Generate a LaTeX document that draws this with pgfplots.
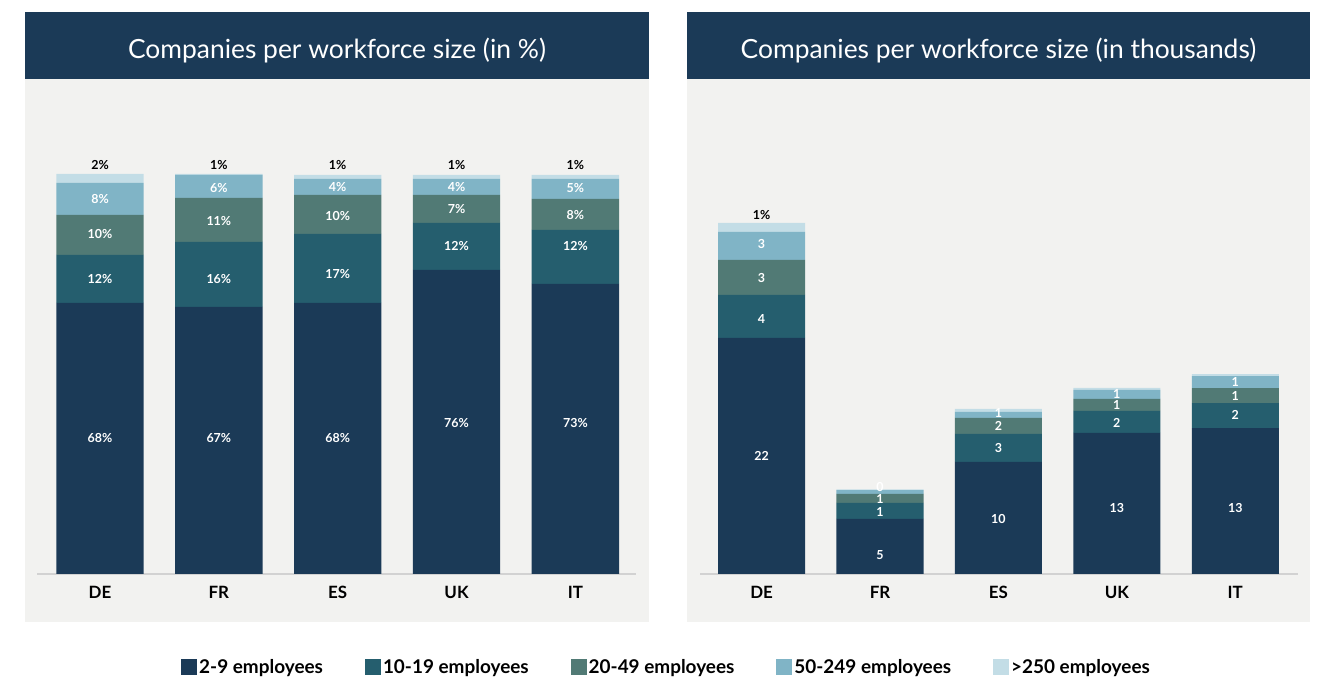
\documentclass[border=0pt]{standalone}
\usepackage{pgfplots}
\pgfplotsset{compat=1.18}
\usepackage{pgfplotstable}
\usepackage{fontspec}
\setmainfont{Lato}
\definecolor{cA}{HTML}{1B3A57}
\definecolor{cB}{HTML}{255E6E}
\definecolor{cC}{HTML}{517A75}
\definecolor{cD}{HTML}{80B4C6}
\definecolor{cE}{HTML}{C3DDE6}
\definecolor{band}{HTML}{1B3A57}
\definecolor{panel}{HTML}{F2F2F0}
\definecolor{axisgray}{HTML}{D2D2D2}

\pgfplotstableread{
x a b c d e
0 67.75 12 10 8 2.25
1 66.75 16.25 11 5.75 0.25
2 67.75 17.25 9.75 4 1
3 76 11.75 7 4 1
4 72.5 13.5 7.75 5 1
}\leftdata

\pgfplotstableread{
x a b c d e
0 22.06 4.02 3.27 2.62 0.84
1 5.14 1.50 0.84 0.37 0.05
2 10.47 2.62 1.50 0.56 0.28
3 13.18 2.06 1.12 0.84 0.19
4 13.64 2.34 1.40 1.12 0.19
}\rightdata

\pgfplotsset{
  leftbase/.style={
    scale only axis, width=599bp, height=500bp,
    ymin=0, ymax=125, xmin=-0.53, xmax=4.51,
    clip=false, at={(37bp,105bp)}, anchor=south west,
  },
  rightbase/.style={
    scale only axis, width=598bp, height=535bp,
    ymin=0, ymax=50, xmin=-0.52, xmax=4.53,
    clip=false, at={(700bp,105bp)}, anchor=south west,
  },
  barstyle/.style={
    ybar stacked, bar width=0.735,
    axis x line*=bottom, axis y line=none,
    x axis line style={draw=axisgray, line width=1.3bp, -},
    xtick={0,...,4}, xticklabels={DE,FR,ES,UK,IT},
    major tick length=0pt,
    xticklabel style={font=\fontsize{17}{20}\selectfont\bfseries, text=black, yshift=-9bp},
  },
  lbl/.style={draw=none, mark=none, point meta=explicit symbolic,
    every node near coord/.style={anchor=center, inner sep=0pt, text=white,
      font=\fontsize{12.5}{14}\selectfont\bfseries}},
  toplbl/.style={draw=none, mark=none, point meta=explicit symbolic,
    every node near coord/.style={anchor=center, inner sep=0pt, text=black,
      font=\fontsize{12.5}{14}\selectfont\bfseries}},
}

\begin{document}
\begin{tikzpicture}[x=1bp,y=1bp]
\useasboundingbox (0,0) rectangle (1326,679);
\fill[white] (0,0) rectangle (1326,679);
% panels
\fill[panel] (25,57) rectangle (649,600);
\fill[band] (25,600) rectangle (649,667);
\node[text=white, font=\fontsize{26.5}{30}\selectfont] at (337,628) {Companies per workforce size (in \%)};
\fill[panel] (687,57) rectangle (1310,600);
\fill[band] (687,600) rectangle (1310,667);
\node[text=white, font=\fontsize{26.5}{30}\selectfont] at (998.5,628) {Companies per workforce size (in thousands)};

% left chart
\begin{axis}[leftbase, barstyle,
  legend style={at={(1.051,-0.186)}, anchor=center, draw=none, fill=none,
    legend columns=5, font=\fontsize{19}{22}\selectfont\bfseries,
    /tikz/every even column/.append style={column sep=40bp}},
  legend image code/.code={\fill[#1] (0bp,-8bp) rectangle (16bp,8bp);},
]
\addplot[fill=cA, draw=none] table[x=x,y=a]{\leftdata};
\addplot[fill=cB, draw=none] table[x=x,y=b]{\leftdata};
\addplot[fill=cC, draw=none] table[x=x,y=c]{\leftdata};
\addplot[fill=cD, draw=none] table[x=x,y=d]{\leftdata};
\addplot[fill=cE, draw=none] table[x=x,y=e]{\leftdata};
\legend{2-9 employees,10-19 employees,20-49 employees,50-249 employees,>250 employees}
\end{axis}
\begin{axis}[leftbase, hide axis]
\addplot[lbl, nodes near coords={\pgfplotspointmeta\%}] table[x=x,y=y,meta=l]{
x y l
0 34 68
0 73.75 12
0 85 10
0 93.75 8
1 34 67
1 73.75 16
1 88.25 11
1 96.5 6
2 34 68
2 75 17
2 89.5 10
2 96.75 4
3 37.75 76
3 82 12
3 91.25 7
3 96.75 4
4 37.75 73
4 82 12
4 89.75 8
4 96.5 5
};
\addplot[toplbl, nodes near coords={\pgfplotspointmeta\%}] table[x=x,y=y,meta=l]{
x y l
0 102.25 2
1 102.25 1
2 102.25 1
3 102.25 1
4 102.25 1
};
\end{axis}

% right chart
\begin{axis}[rightbase, barstyle]
\addplot[fill=cA, draw=none] table[x=x,y=a]{\rightdata};
\addplot[fill=cB, draw=none] table[x=x,y=b]{\rightdata};
\addplot[fill=cC, draw=none] table[x=x,y=c]{\rightdata};
\addplot[fill=cD, draw=none] table[x=x,y=d]{\rightdata};
\addplot[fill=cE, draw=none] table[x=x,y=e]{\rightdata};
\end{axis}
\begin{axis}[rightbase, hide axis]
\addplot[lbl, nodes near coords] table[x=x,y=y,meta=l]{
x y l
0 11.03 22
0 23.8 4
0 27.7 3
0 30.8 3
1 1.78 5
1 5.8 1
1 7.0 1
1 8.13 0
2 5.14 10
2 11.78 3
2 13.83 2
2 15.05 1
3 6.17 13
3 14.1 2
3 15.8 1
3 16.8 1
4 6.17 13
4 14.86 2
4 16.6 1
4 17.9 1
};
\addplot[toplbl, nodes near coords={\pgfplotspointmeta\%}] table[x=x,y=y,meta=l]{
x y l
0 33.55 1
};
\end{axis}
\end{tikzpicture}
\end{document}
